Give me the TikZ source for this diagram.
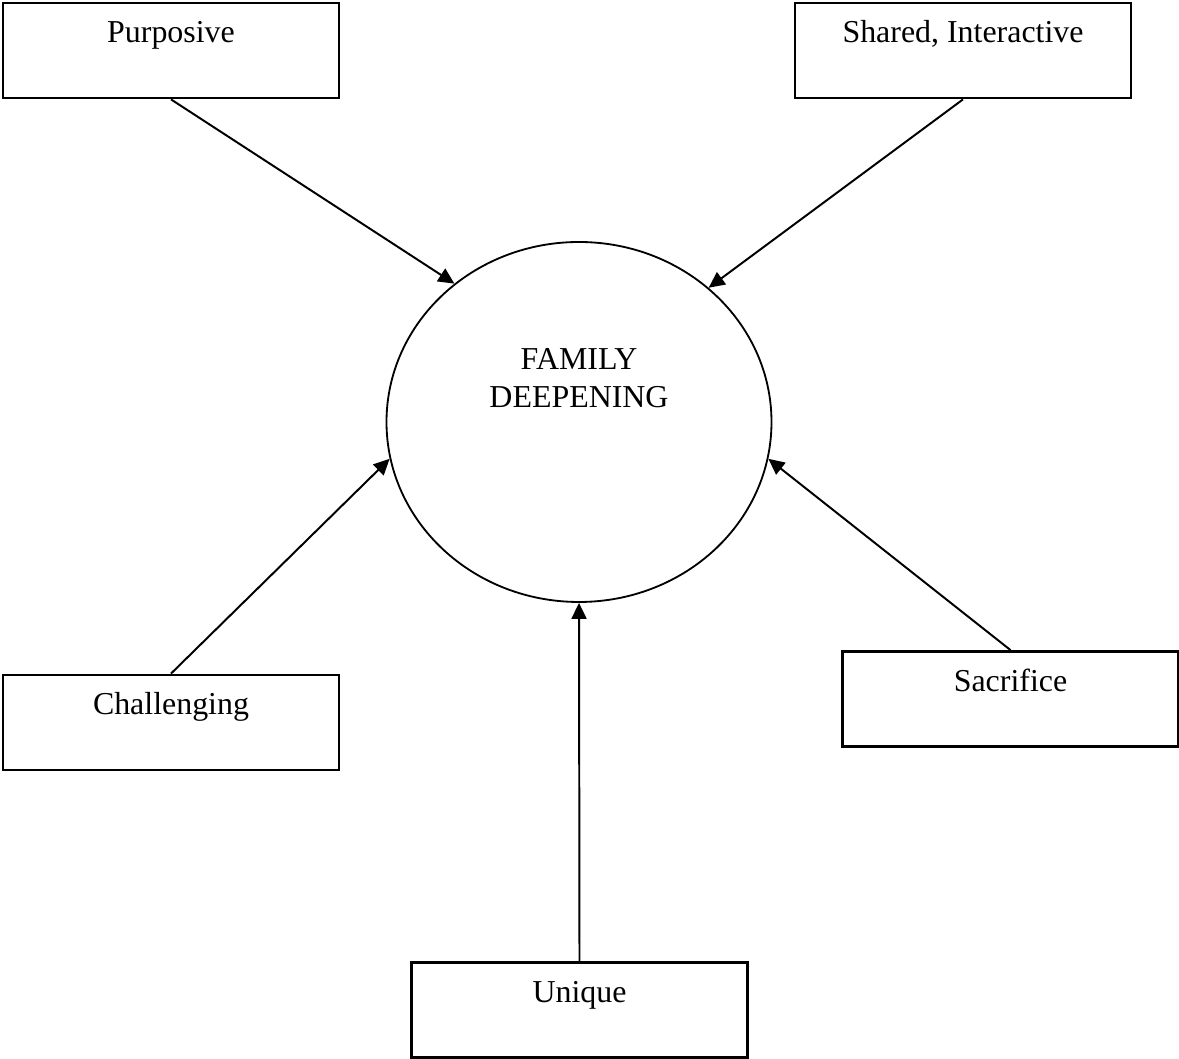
\documentclass[tikz,border=0pt]{standalone}
\usepackage{fontspec}
\setmainfont{Liberation Serif}
\usepackage{tikz}
\usetikzlibrary{positioning,shapes.geometric,arrows.meta}

\begin{document}
\begin{tikzpicture}[
  font=\fontsize{22.7}{27.5}\selectfont,
  box/.style={draw, line width=2pt, minimum width=8.4cm, minimum height=2.375cm, text height=16pt, text depth=26.7pt},
  core/.style={draw, ellipse, line width=1.3pt, minimum width=9.625cm, minimum height=9cm},
  coretext/.style={align=center},
  arr/.style={-{Triangle[length=0.4cm, width=0.375cm]}, line width=1.4pt}
]
  \useasboundingbox (0,0) rectangle (29.475,26.475);

  % centre
  \node[core] (fd) at (14.475,15.925) {};
  \node[coretext] (fdtext) at (14.475,17.02) {FAMILY\\DEEPENING};

  % factors
  \node[box] (purp) at (4.275,25.2125) {Purposive};
  \node[box] (share) at (24.075,25.2125) {Shared, Interactive};
  \node[box] (chal) at (4.275,8.4125) {Challenging};
  \node[box] (sacr) at (25.2625,9.0) {Sacrifice};
  \node[box] (uniq) at (14.4875,1.225) {Unique};

  \draw[arr] (purp.south) -- (fd.132.5);
  \draw[arr] (share.south) -- (fd.46);
  \draw[arr] (chal.north) -- (fd.191);
  \draw[arr] (sacr.north) -- (fd.349);
  \draw[arr] (uniq.north) -- (fd.south);
\end{tikzpicture}
\end{document}
